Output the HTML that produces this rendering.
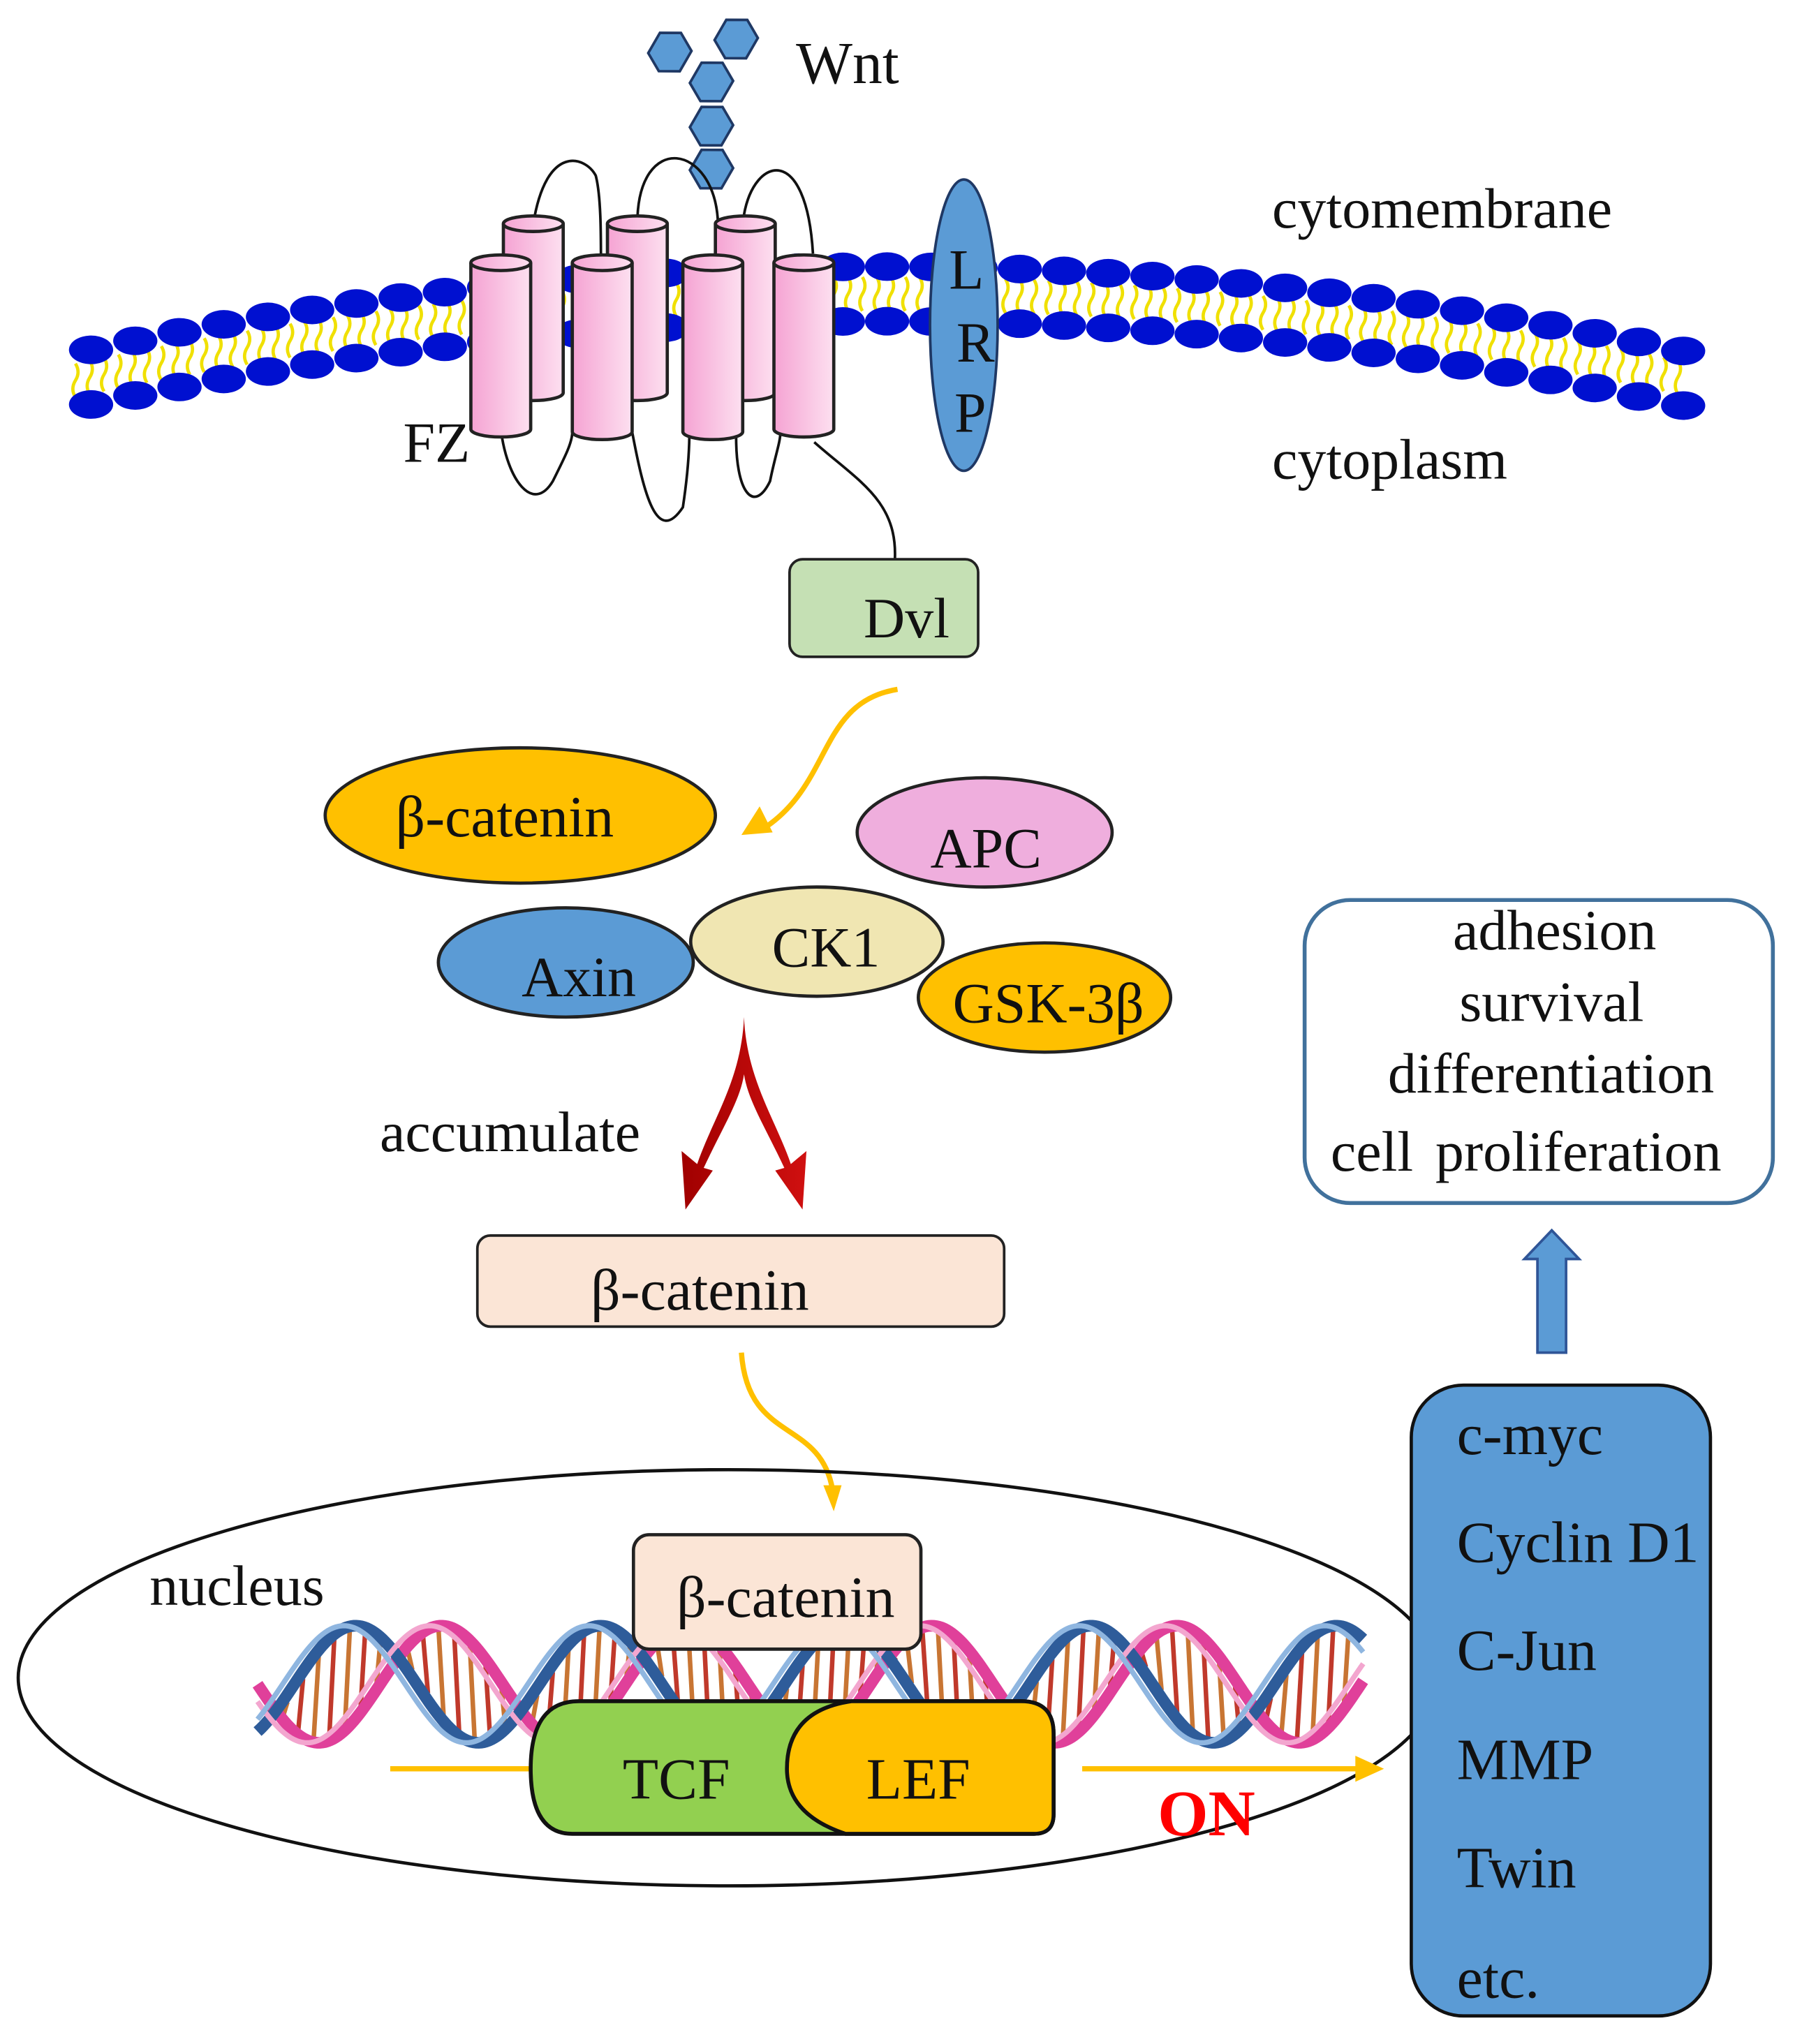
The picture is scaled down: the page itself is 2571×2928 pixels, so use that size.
<!DOCTYPE html>
<html><head><meta charset="utf-8"><style>
html,body{margin:0;padding:0;background:#fff;}
svg{display:block;}
text{font-family:"Liberation Serif",serif;fill:#111;}
</style></head><body>
<svg id="s" width="2571" height="2928" viewBox="0 0 1380 1571.6" preserveAspectRatio="none" xmlns="http://www.w3.org/2000/svg">
<defs>
<linearGradient id="pk" x1="0" x2="1"><stop offset="0" stop-color="#f5a3d3"/><stop offset="1" stop-color="#fde0f0"/></linearGradient>
<linearGradient id="rd" x1="0" x2="1"><stop offset="0" stop-color="#a00000"/><stop offset="1" stop-color="#d01010"/></linearGradient>
</defs>
<g id="mem"></g>
<g fill="#5b9bd5" stroke="#1f3864" stroke-width="2">
<polygon points="0,-17 14,-9 14,9 0,17 -14,9 -14,-9" transform="translate(515,40) rotate(30)"/>
<polygon points="0,-17 14,-9 14,9 0,17 -14,9 -14,-9" transform="translate(566,30) rotate(30)"/>
<polygon points="0,-17 14,-9 14,9 0,17 -14,9 -14,-9" transform="translate(547,63) rotate(30)"/>
<polygon points="0,-17 14,-9 14,9 0,17 -14,9 -14,-9" transform="translate(547,97) rotate(30)"/>
<polygon points="0,-17 14,-9 14,9 0,17 -14,9 -14,-9" transform="translate(547,130) rotate(30)"/>
</g>
<text x="612" y="64" font-size="46">Wnt</text>
<g fill="none" stroke="#111" stroke-width="2">
<path d="M410,172 C420,110 450,120 458,135 C462,150 462,180 462,200"/>
<path d="M490,172 C490,100 550,110 552,172"/>
<path d="M572,165 C580,120 620,110 625,195"/>
<path d="M385,330 C390,370 410,395 425,370 C435,350 440,340 440,332"/>
<path d="M486,332 C495,380 505,420 525,390 C528,370 530,350 530,332"/>
<path d="M566,332 C565,380 580,395 592,370 C596,350 600,340 600,332"/>
<path d="M626,340 C660,370 690,385 688,430"/>
</g>
<g stroke="#222" stroke-width="2.5" fill="url(#pk)" id="cyl"></g>
<text x="310" y="355" font-size="44">FZ</text>
<ellipse cx="741" cy="250" rx="26" ry="112" fill="#5b9bd5" stroke="#1f3864" stroke-width="2"/>
<text x="743" y="222" font-size="44" text-anchor="middle">L</text>
<text x="750" y="278" font-size="44" text-anchor="middle">R</text>
<text x="746" y="332" font-size="44" text-anchor="middle">P</text>
<text x="978" y="175" font-size="44">cytomembrane</text>
<text x="978" y="368" font-size="44">cytoplasm</text>
<rect x="607" y="430" width="145" height="75" rx="10" fill="#c5e0b4" stroke="#222" stroke-width="2"/>
<text x="664" y="490" font-size="44">Dvl</text>
<path d="M690,530 C630,540 640,600 590,635" fill="none" stroke="#ffc000" stroke-width="4"/>
<polygon points="570,642 584,620 594,640" fill="#ffc000"/>
<ellipse cx="400" cy="627" rx="150" ry="52" fill="#ffc000" stroke="#222" stroke-width="2.5"/>
<text x="388" y="643" font-size="45" text-anchor="middle">β-catenin</text>
<ellipse cx="757" cy="640" rx="98" ry="42" fill="#efaedd" stroke="#222" stroke-width="2.5"/>
<text x="758" y="667" font-size="44" text-anchor="middle">APC</text>
<ellipse cx="435" cy="740" rx="98" ry="42" fill="#5b9bd5" stroke="#222" stroke-width="2.5"/>
<text x="445" y="766" font-size="44" text-anchor="middle">Axin</text>
<ellipse cx="628" cy="724" rx="97" ry="42" fill="#f0e6b2" stroke="#222" stroke-width="2.5"/>
<text x="635" y="743" font-size="44" text-anchor="middle">CK1</text>
<ellipse cx="803" cy="767" rx="97" ry="42" fill="#ffc000" stroke="#222" stroke-width="2.5"/>
<text x="806" y="786" font-size="44" text-anchor="middle">GSK-3β</text>
<path d="M572,782 C570,830 548,860 536,895 L524,885 L527,930 L548,900 L541,898 C556,866 569,846 572,826 C575,846 588,866 603,898 L596,900 L617,930 L620,885 L608,895 C596,860 574,830 572,782 Z" fill="url(#rd)"/>
<text x="292" y="885" font-size="44">accumulate</text>
<rect x="367" y="950" width="405" height="70" rx="10" fill="#fbe5d6" stroke="#222" stroke-width="2"/>
<text x="538" y="1007" font-size="45" text-anchor="middle">β-catenin</text>
<path d="M570,1040 C575,1110 630,1090 640,1145" fill="none" stroke="#ffc000" stroke-width="4"/>
<polygon points="633,1142 647,1142 641,1162" fill="#ffc000"/>
<ellipse cx="560" cy="1290" rx="546" ry="160" fill="none" stroke="#111" stroke-width="2.5"/>
<text x="115" y="1234" font-size="44">nucleus</text>
<g id="dna"></g>
<rect x="487" y="1180" width="221" height="88" rx="12" fill="#fbe5d6" stroke="#222" stroke-width="2.5"/>
<text x="604" y="1243" font-size="45" text-anchor="middle">β-catenin</text>
<line x1="300" y1="1360" x2="410" y2="1360" stroke="#ffc000" stroke-width="4"/>
<path d="M445,1308 L785,1308 Q810,1308 810,1333 L810,1395 Q810,1410 795,1410 L440,1410 Q408,1410 408,1360 Q408,1308 445,1308 Z" fill="#92d050" stroke="#111" stroke-width="3"/>
<path d="M655,1308 L785,1308 Q810,1308 810,1333 L810,1395 Q810,1410 795,1410 L650,1410 Q605,1395 605,1360 Q605,1315 655,1308 Z" fill="#ffc000" stroke="#111" stroke-width="3"/>
<text x="520" y="1383" font-size="45" text-anchor="middle">TCF</text>
<text x="706" y="1383" font-size="45" text-anchor="middle">LEF</text>
<line x1="832" y1="1360" x2="1045" y2="1360" stroke="#ffc000" stroke-width="4"/>
<polygon points="1042,1350 1064,1360 1042,1370" fill="#ffc000"/>
<text x="890" y="1411" font-size="50" font-weight="bold" style="fill:#ff0000">ON</text>
<rect x="1085" y="1065" width="230" height="485" rx="40" fill="#5b9bd5" stroke="#111" stroke-width="2.5"/>
<g font-size="45"><text x="1120" y="1118">c-myc</text><text x="1120" y="1201">Cyclin D1</text><text x="1120" y="1284">C-Jun</text><text x="1120" y="1368">MMP</text><text x="1120" y="1451">Twin</text><text x="1120" y="1536">etc.</text></g>
<polygon points="1182,1040 1204,1040 1204,968 1214,968 1193,946 1172,968 1182,968" fill="#5b9bd5" stroke="#2f5597" stroke-width="2"/>
<rect x="1003" y="692" width="360" height="233" rx="35" fill="#fff" stroke="#41719c" stroke-width="3"/>
<g font-size="44"><text x="1117" y="730">adhesion</text><text x="1122" y="785">survival</text><text x="1067" y="840">differentiation</text><text x="1023" y="900" word-spacing="6">cell proliferation</text></g>
</svg>
<script>
var NS="http://www.w3.org/2000/svg";
function el(p,t,a){var e=document.createElementNS(NS,t);for(var k in a)e.setAttribute(k,a[k]);p.appendChild(e);return e;}
var mem=document.getElementById("mem");
function my(x){return 226+0.000172*(x-680)*(x-680);}
var x;
for(x=58;x<=1295;x+=11){var y=my(x);el(mem,"path",{d:"M"+x+","+(y-13)+" q4,6.5 0,13 q-4,6.5 0,13",stroke:"#f0e000","stroke-width":"2.5",fill:"none"});}
for(x=70;x<=1295;x+=34){var y=my(x);el(mem,"ellipse",{cx:x,cy:y-21,rx:17,ry:11,fill:"#0010d0"});el(mem,"ellipse",{cx:x,cy:y+21,rx:17,ry:11,fill:"#0010d0"});}
var cyl=document.getElementById("cyl");
function c(x,t,b){var w=46;el(cyl,"path",{d:"M"+x+","+t+" L"+x+","+b+" A23,6 0 0 0 "+(x+w)+","+b+" L"+(x+w)+","+t});el(cyl,"ellipse",{cx:x+23,cy:t,rx:23,ry:6});}
c(387,172,302);c(467,172,302);c(550,172,302);c(362,202,330);c(440,202,332);c(525,202,332);c(595,202,330);
var dna=document.getElementById("dna");
var P=30;
function strand(ph,col,w){var d="";for(var i=0;i<=425;i++){var xx=198+i*2;var yy=1295+45*Math.sin((xx-198)/P+ph);d+=(i?"L":"M")+xx+","+yy;}el(dna,"path",{d:d,stroke:col,"stroke-width":w,fill:"none"});}
for(var xx=205;xx<1040;xx+=12){var a=1295+45*Math.sin((xx-198)/P),b=1295+45*Math.sin((xx-198)/P+2.2);el(dna,"line",{x1:xx,y1:a,x2:xx+4,y2:b,stroke:(Math.round(xx/12)%2)?"#c0392b":"#c87533","stroke-width":3.5});}
strand(0,"#e0409a",9);strand(2.2,"#2e5c9a",9);strand(0.3,"#f3a6cf",4);strand(2.5,"#8fb6e0",4);
</script>
</body></html>
